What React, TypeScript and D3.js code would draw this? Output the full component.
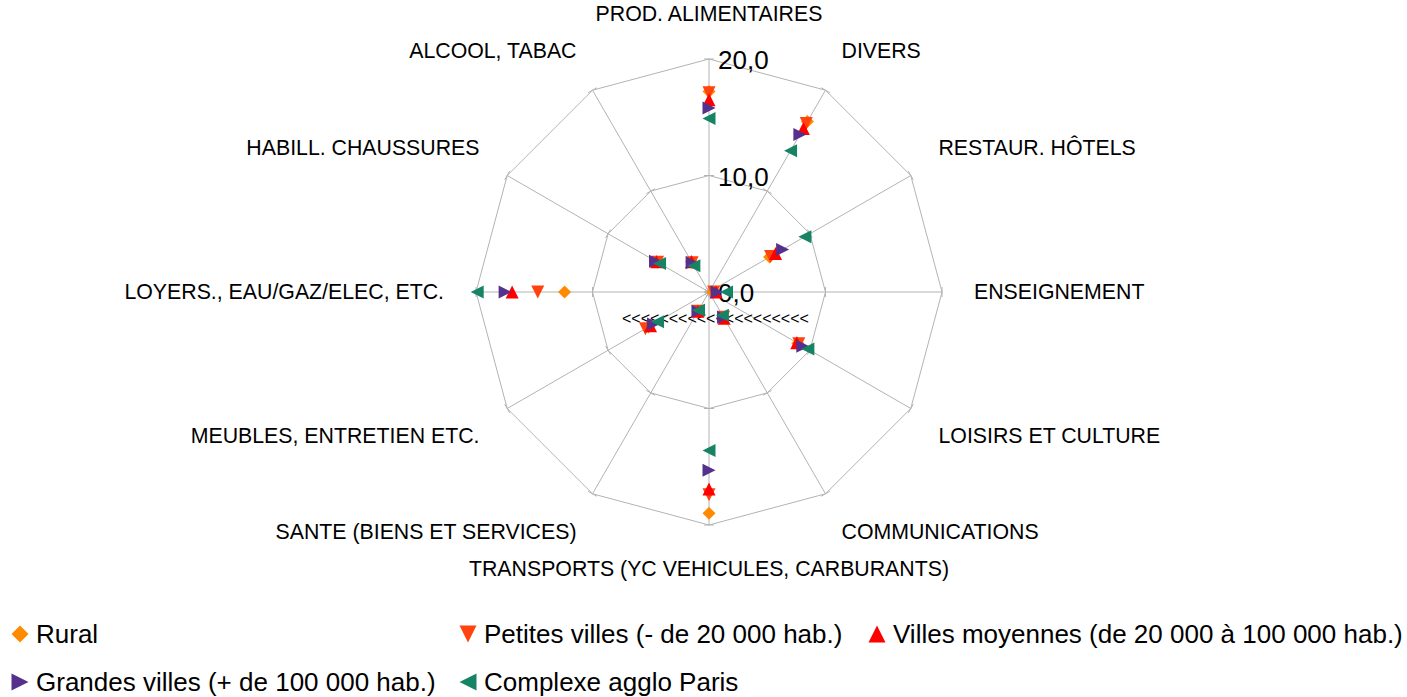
import React from "react";
import * as d3 from "d3";

const categories = [
  "PROD. ALIMENTAIRES",
  "DIVERS",
  "RESTAUR. HÔTELS",
  "ENSEIGNEMENT",
  "LOISIRS ET CULTURE",
  "COMMUNICATIONS",
  "TRANSPORTS (YC VEHICULES, CARBURANTS)",
  "SANTE (BIENS ET SERVICES)",
  "MEUBLES, ENTRETIEN ETC.",
  "LOYERS., EAU/GAZ/ELEC, ETC.",
  "HABILL. CHAUSSURES",
  "ALCOOL, TABAC",
];

const rural = [17.2, 16.9, 6.0, 0.3, 8.8, 2.5, 19.0, 1.9, 6.0, 12.4, 5.2, 3.0];
const petitesVilles = [17.1, 16.7, 6.1, 0.4, 8.9, 2.5, 17.4, 1.9, 6.3, 14.7, 5.1, 2.9];
const villesMoyennes = [16.5, 16.2, 6.6, 0.6, 8.7, 2.6, 16.9, 1.9, 5.8, 16.9, 5.2, 3.0];
const grandesVilles = [15.8, 15.6, 7.3, 0.7, 9.3, 2.5, 15.3, 1.9, 5.5, 17.5, 5.3, 2.9];
const paris = [14.9, 14.0, 9.5, 1.5, 9.8, 2.3, 13.6, 1.8, 5.1, 19.9, 4.9, 2.6];

const seriesNames = [
  "Rural",
  "Petites villes (- de 20 000 hab.)",
  "Villes moyennes (de 20 000 à 100 000 hab.)",
  "Grandes villes (+ de 100 000 hab.)",
  "Complexe agglo Paris",
];
const seriesValues = [rural, petitesVilles, villesMoyennes, grandesVilles, paris];
const seriesColors = ["#ff8a00", "#ff420e", "#ff0000", "#55308d", "#168464"];
const seriesShapes = ["diamond", "down", "up", "right", "left"];

const ticks = [0, 10, 20];
const tickLabels = ["0,0", "10,0", "20,0"];

const W = 1407;
const H = 697;
const cx = 709;
const cy = 292;
const R = 233;
const FONT = "'Liberation Sans', Arial, sans-serif";

function shapePath(shape: string, h: number) {
  switch (shape) {
    case "diamond":
      return `M0,${-h}L${h},0L0,${h}L${-h},0Z`;
    case "down":
      return `M${-h},${-h}L${h},${-h}L0,${h}Z`;
    case "up":
      return `M0,${-h}L${h},${h}L${-h},${h}Z`;
    case "right":
      return `M${-h},${-h}L${h},0L${-h},${h}Z`;
    default:
      return `M${h},${-h}L${-h},0L${h},${h}Z`;
  }
}

export default function App() {
  const n = categories.length;
  const angle = d3
    .scaleLinear()
    .domain([0, n])
    .range([0, 2 * Math.PI]);
  const r = d3.scaleLinear().domain([0, 20]).range([0, R]);

  const pt = (i: number, v: number): [number, number] => {
    const a = angle(i);
    return [cx + r(v) * Math.sin(a), cy - r(v) * Math.cos(a)];
  };

  const ringLine = d3.line<[number, number]>().curve(d3.curveLinearClosed);

  const legendCols = [12, 460, 869];
  const legendRows = [634, 682];
  const legendPos = [
    [0, 0],
    [1, 0],
    [2, 0],
    [0, 1],
    [1, 1],
  ];

  return (
    <svg
      width={W}
      height={H}
      style={{ position: "absolute", left: 0, top: 0, background: "#fff" }}
      fontFamily={FONT}
    >
      <rect x={0} y={0} width={W} height={H} fill="#fff" />
      {ticks
        .filter((t) => t > 0)
        .map((t) => (
          <path
            key={"ring" + t}
            d={ringLine(d3.range(n).map((i) => pt(i, t))) || ""}
            fill="none"
            stroke="#b3b3b3"
            strokeWidth={1}
          />
        ))}
      {d3.range(n).map((i) => {
        const [x, y] = pt(i, 20);
        return (
          <line key={"sp" + i} x1={cx} y1={cy} x2={x} y2={y} stroke="#b3b3b3" strokeWidth={1} />
        );
      })}
      {d3.range(n).map((i) =>
        ticks.map((t) => {
          const a = angle(i);
          const [x, y] = pt(i, t);
          const px = Math.cos(a) * 5;
          const py = Math.sin(a) * 5;
          return (
            <line
              key={"tk" + i + "_" + t}
              x1={x - px}
              y1={y - py}
              x2={x + px}
              y2={y + py}
              stroke="#b3b3b3"
              strokeWidth={1}
            />
          );
        })
      )}
      {categories.map((c, i) => {
        const a = angle(i);
        const s = Math.sin(a);
        const co = Math.cos(a);
        const as = Math.abs(s);
        const extra = as > 0.6 && as < 0.95 ? 10 : 0;
        const x = cx + 265 * s;
        const y = cy - (277 + extra) * co - (co > 0.01 ? 1 : 0);
        const anchor = s > 0.01 ? "start" : s < -0.01 ? "end" : "middle";
        return (
          <text
            key={"cat" + i}
            x={x}
            y={y}
            textAnchor={anchor}
            dominantBaseline="central"
            fontSize={21.3}
            fill="#000"
          >
            {c}
          </text>
        );
      })}
      {ticks.map((t, k) => (
        <text
          key={"tl" + t}
          x={cx + 9}
          y={cy - r(t) + 1}
          dominantBaseline="central"
          fontSize={26}
          fill="#000"
        >
          {tickLabels[k]}
        </text>
      ))}
      <text x={cx - 87} y={cy + 26} dominantBaseline="central" fontSize={16} fill="#000">
        {"<<<<<<<<<<<<<<<<<<<<"}
      </text>
      {seriesValues.map((vals, s) =>
        vals.map((v, i) => {
          const [x, y] = pt(i, v);
          return (
            <path
              key={"m" + s + "_" + i}
              d={shapePath(seriesShapes[s], 6.5)}
              transform={`translate(${x},${y})`}
              fill={seriesColors[s]}
            />
          );
        })
      )}
      {seriesNames.map((name, s) => {
        const [c, rw] = legendPos[s];
        const x = legendCols[c];
        const y = legendRows[rw];
        return (
          <g key={"lg" + s}>
            <path
              d={shapePath(seriesShapes[s], 8.5)}
              transform={`translate(${x + 8},${y})`}
              fill={seriesColors[s]}
            />
            <text x={x + 24} y={y} dominantBaseline="central" fontSize={26} fill="#000">
              {name}
            </text>
          </g>
        );
      })}
    </svg>
  );
}
